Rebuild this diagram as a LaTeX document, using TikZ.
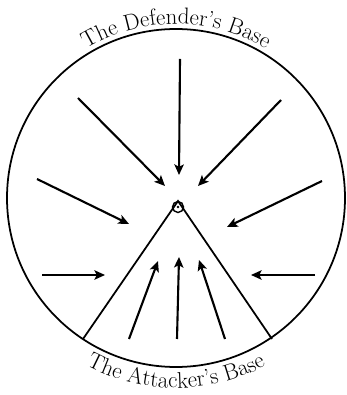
\documentclass[tikz,border=0pt]{standalone}
\usetikzlibrary{arrows.meta,decorations.text}
\begin{document}
\begin{tikzpicture}[x=0.03cm,y=0.03cm]
	\tikzset{push/.style={line width=1.8pt,-{Stealth[length=9pt,width=8pt,inset=2pt]}},
		wall/.style={line width=1.5pt}}
	\useasboundingbox (0,0) rectangle (347,395);
	\coordinate (C) at (176,197);
	\draw [wall] (C) circle (169);
	% the two bases
	\path [decorate,decoration={text along path,text align=center,
		text={|\fontsize{19.5}{22}\selectfont|The Defender's Base}}]
		(C) ++(126:174) arc [start angle=126,end angle=54,radius=174];
	\path [decorate,decoration={text along path,text align=center,
		text={|\fontsize{19.5}{22}\selectfont|The Attacker's Base}}]
		(C) ++(235:190) arc [start angle=235,end angle=305,radius=190];
	% the wedge
	\coordinate (apex) at (178,194);
	\coordinate (baseL) at (83,56);
	\coordinate (baseR) at (272,56);
	\draw [wall] (baseL) -- (apex) -- (baseR);
	\draw [line width=1.2pt] (178,188) circle (5.5);
	\fill (178,188) circle (1.4);
	% attacks from outside
	\coordinate (t1) at (180,336); \coordinate (h1) at (179,220);
	\coordinate (t2) at (78,297);  \coordinate (h2) at (165,209);
	\coordinate (t3) at (281,295); \coordinate (h3) at (198,209);
	\coordinate (t4) at (37,216);  \coordinate (h4) at (129,171);
	\coordinate (t5) at (322,214); \coordinate (h5) at (227,168);
	\coordinate (t6) at (42,120);  \coordinate (h6) at (105,120);
	\coordinate (t7) at (315,120); \coordinate (h7) at (251,120);
	\foreach \i in {1,...,7}
		\draw [push] (t\i) -- (h\i);
	% pushes from the base
	\coordinate (b1) at (129,56);  \coordinate (p1) at (158,134);
	\coordinate (b2) at (177,56);  \coordinate (p2) at (179,138);
	\coordinate (b3) at (225,56);  \coordinate (p3) at (199,135);
	\foreach \i in {1,2,3}
		\draw [push] (b\i) -- (p\i);
\end{tikzpicture}
\end{document}
